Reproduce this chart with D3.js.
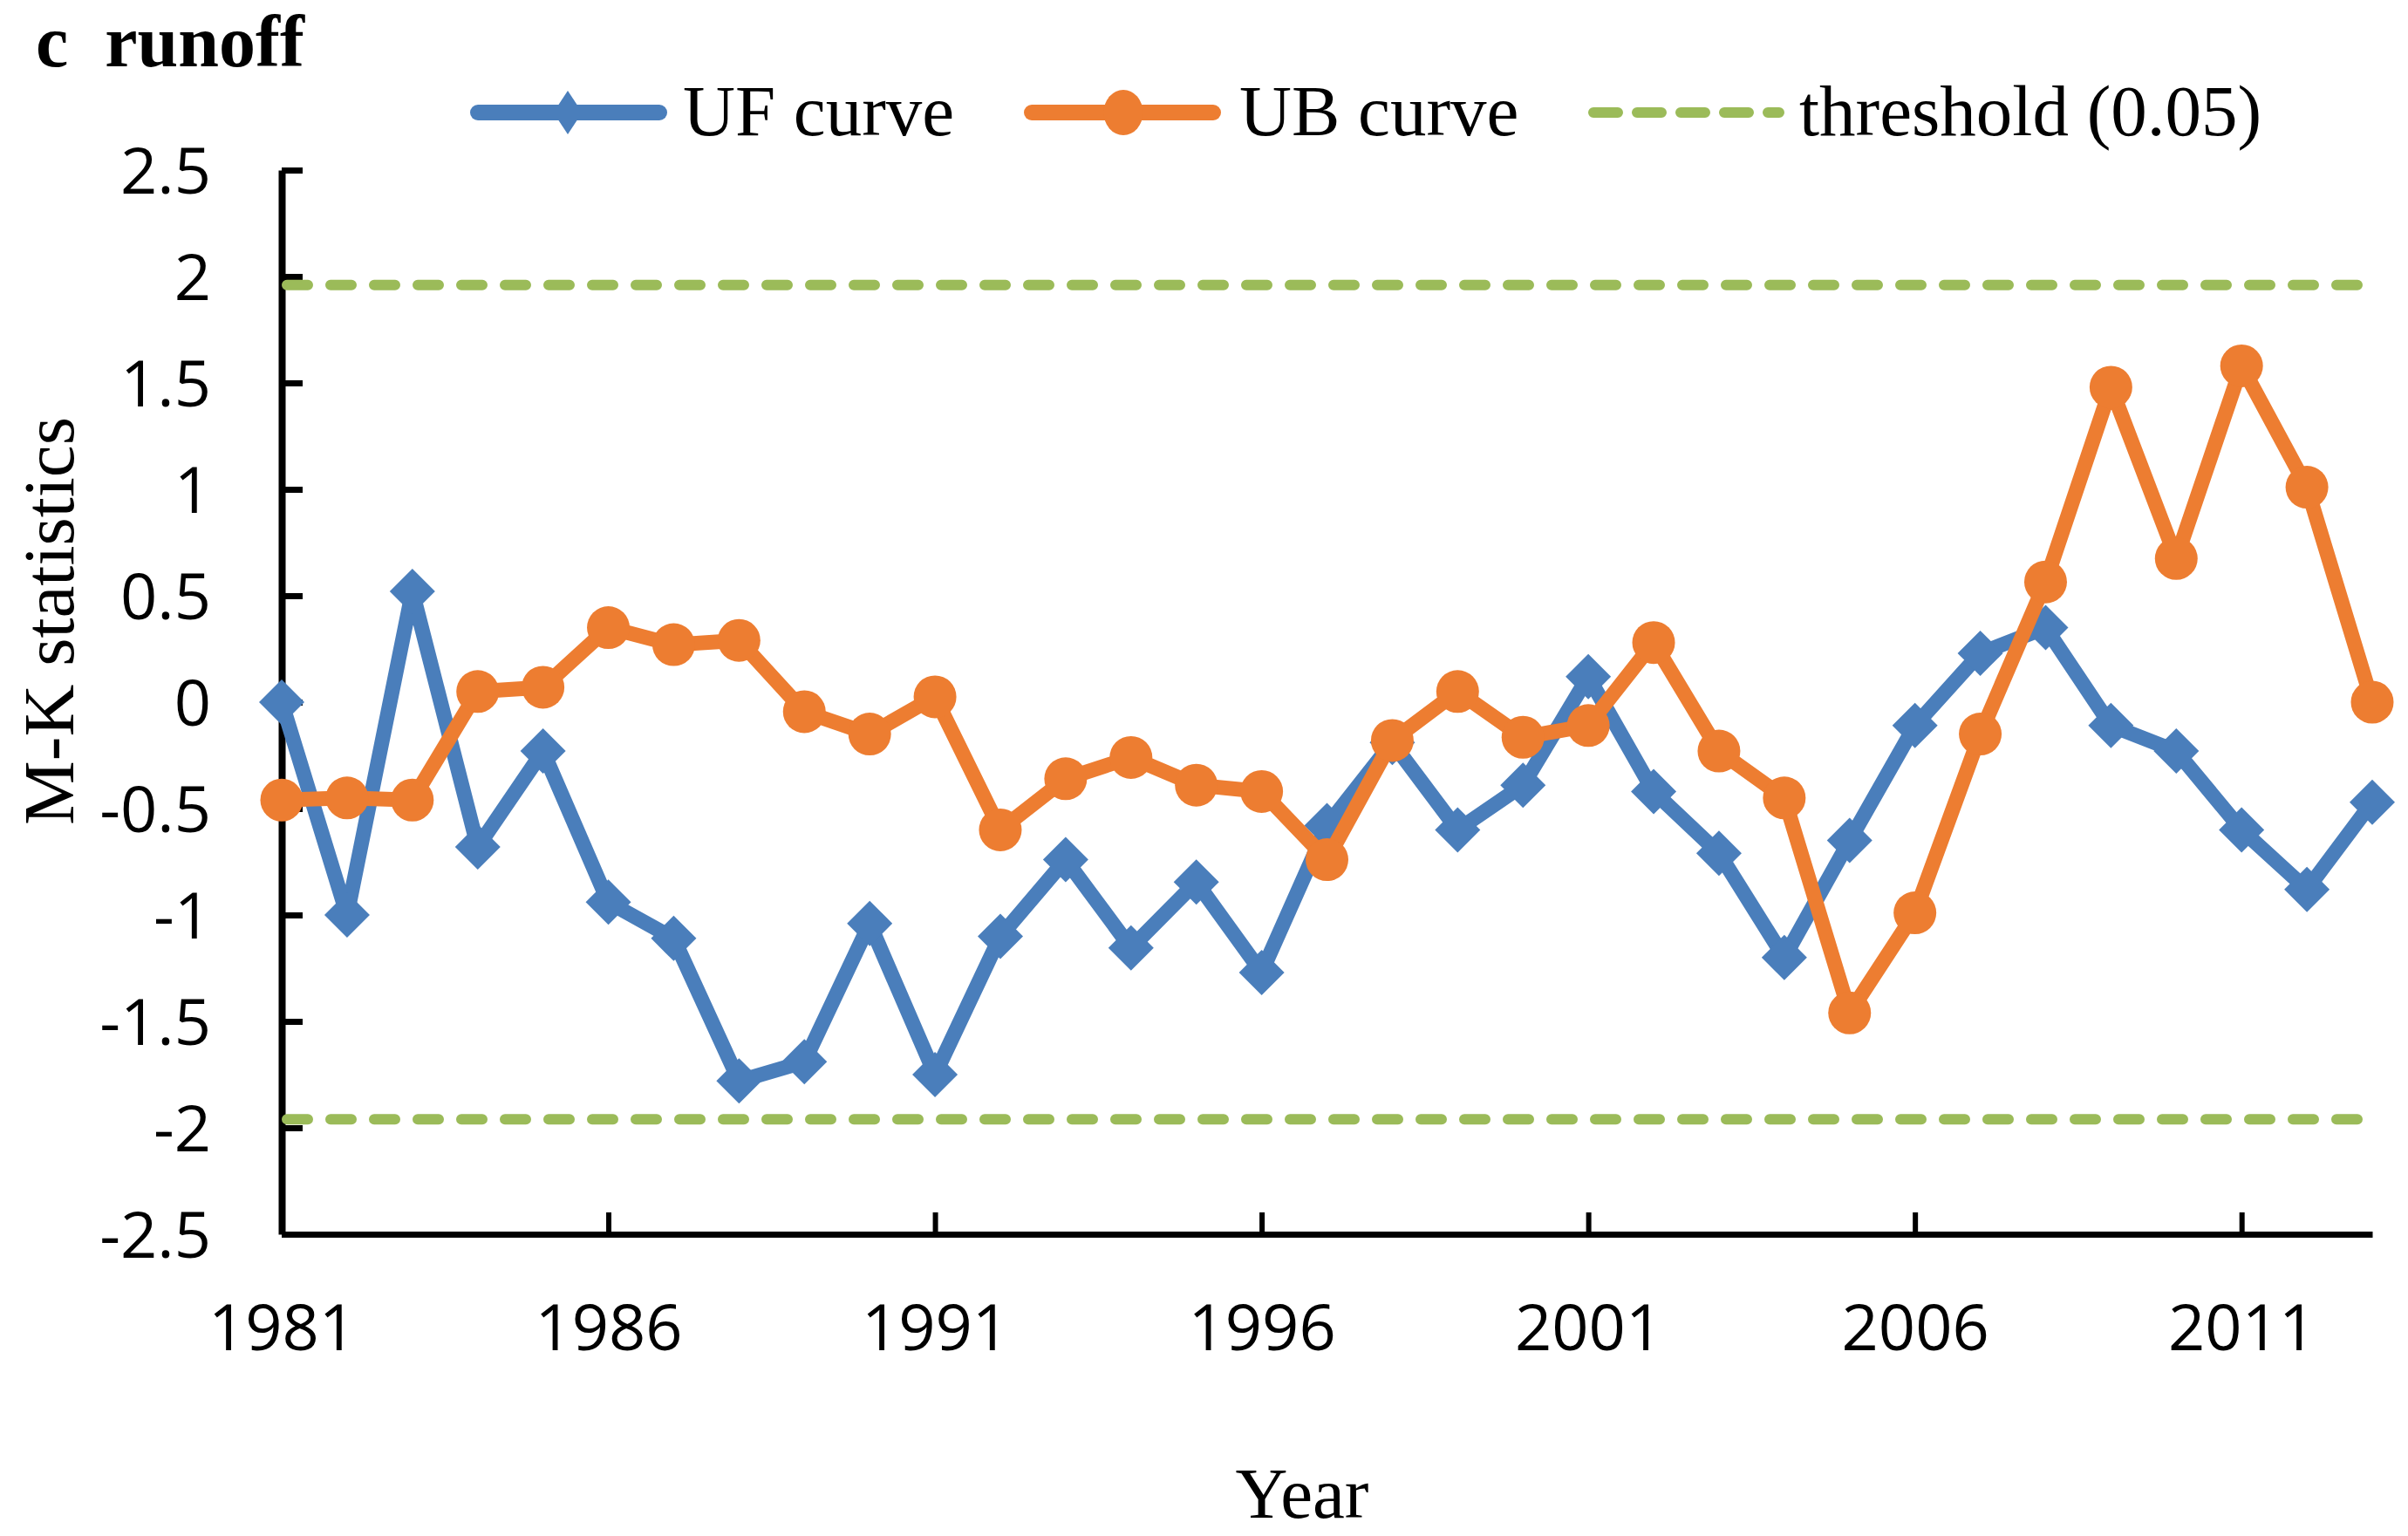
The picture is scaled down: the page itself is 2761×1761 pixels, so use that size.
<!DOCTYPE html>
<html>
<head>
<meta charset="utf-8">
<script src="https://cdn.jsdelivr.net/npm/d3@7"></script>
<style>
  html, body { margin: 0; padding: 0; background: #fff; }
  svg { display: block; }
</style>
</head>
<body>
<div id="chart"></div>
<script>
// values
const years = d3.range(1981, 2014)
const ufValues = [0, -1.0, 0.52, -0.68, -0.23, -0.94, -1.11, -1.78, -1.69, -1.04,
    -1.75, -1.10, -0.74, -1.155, -0.845, -1.27, -0.58, -0.19, -0.60, -0.39,
    0.12, -0.42, -0.71, -1.20, -0.65, -0.11, 0.23, 0.35, -0.11, -0.23,
    -0.60, -0.88, -0.47]
const ubValues = [-0.46, -0.45, -0.46, 0.05, 0.07, 0.35, 0.27, 0.29, -0.045, -0.15,
    0.025, -0.60, -0.36, -0.26, -0.39, -0.42, -0.74, -0.18, 0.05, -0.165,
    -0.11, 0.28, -0.23, -0.45, -1.46, -0.99, -0.15, 0.565, 1.48, 0.675,
    1.58, 1.01, 0]
const thresholds = [1.96, -1.96]
const yTicks = [-2.5, -2, -1.5, -1, -0.5, 0, 0.5, 1, 1.5, 2, 2.5]
const xTicks = [1981, 1986, 1991, 1996, 2001, 2006, 2011]

const W = 2761, H = 1761
const blue = '#4a7ebb', orange = '#ed7d31', green = '#9bbb59'
const serif = '"Liberation Serif", "Times New Roman", serif'
const sans = '"Open Sans", "Noto Sans", sans-serif'

const x = d3.scaleLinear().domain([1981, 2013]).range([323, 2720])
const y = d3.scaleLinear().domain([-2.5, 2.5]).range([1415, 195])

const svg = d3.select('#chart')
    .append('svg')
    .attr('width', W)
    .attr('height', H)

function diamond(r) {
    return 'M0,' + (-r) + 'L' + r + ',0L0,' + r + 'L' + (-r) + ',0Z'
}

// axes
const yAxis = svg.append('g')
    .attr('transform', 'translate(' + x(1981) + ',0)')
    .call(d3.axisLeft(y).tickValues(yTicks).tickSize(-24).tickSizeOuter(0)
        .tickPadding(81).tickFormat(d => String(d)))
yAxis.select('.domain').attr('stroke', '#000').attr('stroke-width', 8)
yAxis.selectAll('.tick line').attr('stroke', '#000').attr('stroke-width', 7)
yAxis.selectAll('.tick text')
    .attr('font-family', sans)
    .attr('font-size', 74)
    .attr('fill', '#000')
    .attr('dy', '0.36em')

const xAxis = svg.append('g')
    .attr('transform', 'translate(0,' + y(-2.5) + ')')
    .call(d3.axisBottom(x).tickValues(xTicks).tickSize(-25).tickSizeOuter(0)
        .tickPadding(80).tickFormat(d => String(d)))
xAxis.select('.domain').attr('stroke', '#000').attr('stroke-width', 7)
xAxis.selectAll('.tick line').attr('stroke', '#000').attr('stroke-width', 6)
xAxis.selectAll('.tick text')
    .attr('font-family', sans)
    .attr('font-size', 74)
    .attr('fill', '#000')

// threshold lines
svg.selectAll('.thr')
    .data(thresholds)
    .enter()
    .append('line')
    .attr('class', 'thr')
    .attr('x1', x(1981) + 6)
    .attr('x2', x(2013))
    .attr('y1', d => y(d))
    .attr('y2', d => y(d))
    .attr('stroke', green)
    .attr('stroke-width', 12)
    .attr('stroke-linecap', 'round')
    .attr('stroke-dasharray', '24,26')

const line = d3.line()
    .x(d => x(d[0]))
    .y(d => y(d[1]))

const ufData = years.map((yr, i) => [yr, ufValues[i]])
const ubData = years.map((yr, i) => [yr, ubValues[i]])

// UF curve
svg.append('path')
    .datum(ufData)
    .attr('d', line)
    .attr('fill', 'none')
    .attr('stroke', blue)
    .attr('stroke-width', 17)
    .attr('stroke-linejoin', 'round')
svg.selectAll('.uf')
    .data(ufData)
    .enter()
    .append('path')
    .attr('class', 'uf')
    .attr('d', diamond(26))
    .attr('transform', d => 'translate(' + x(d[0]) + ',' + y(d[1]) + ')')
    .attr('fill', blue)

// UB curve
svg.append('path')
    .datum(ubData)
    .attr('d', line)
    .attr('fill', 'none')
    .attr('stroke', orange)
    .attr('stroke-width', 17)
    .attr('stroke-linejoin', 'round')
svg.selectAll('.ub')
    .data(ubData)
    .enter()
    .append('circle')
    .attr('class', 'ub')
    .attr('cx', d => x(d[0]))
    .attr('cy', d => y(d[1]))
    .attr('r', 24.5)
    .attr('fill', orange)

// legend
const legendY = 129
const legend = svg.append('g')

legend.append('line')
    .attr('x1', 548).attr('x2', 756)
    .attr('y1', legendY).attr('y2', legendY)
    .attr('stroke', blue).attr('stroke-width', 18).attr('stroke-linecap', 'round')
legend.append('path')
    .attr('d', diamond(25))
    .attr('transform', 'translate(651,' + legendY + ') scale(0.66,1)')
    .attr('fill', blue)
legend.append('text')
    .attr('x', 783).attr('y', 155)
    .attr('font-family', serif).attr('font-size', 83)
    .text('UF curve')

legend.append('line')
    .attr('x1', 1183).attr('x2', 1391)
    .attr('y1', legendY).attr('y2', legendY)
    .attr('stroke', orange).attr('stroke-width', 18).attr('stroke-linecap', 'round')
legend.append('ellipse')
    .attr('cx', 1288).attr('cy', legendY)
    .attr('rx', 22.5).attr('ry', 26)
    .attr('fill', orange)
legend.append('text')
    .attr('x', 1421).attr('y', 155)
    .attr('font-family', serif).attr('font-size', 83)
    .text('UB curve')

legend.append('line')
    .attr('x1', 1827).attr('x2', 2040)
    .attr('y1', legendY).attr('y2', legendY)
    .attr('stroke', green).attr('stroke-width', 12).attr('stroke-linecap', 'round')
    .attr('stroke-dasharray', '28,22')
legend.append('text')
    .attr('x', 2063).attr('y', 155)
    .attr('font-family', serif).attr('font-size', 83)
    .text('threshold (0.05)')

// title and axis titles
svg.append('text')
    .attr('x', 41).attr('y', 76)
    .attr('font-family', serif).attr('font-size', 84).attr('font-weight', 'bold')
    .style('white-space', 'pre')
    .text('c  runoff')

svg.append('text')
    .attr('transform', 'translate(84,712) rotate(-90)')
    .attr('text-anchor', 'middle')
    .attr('font-family', serif).attr('font-size', 83)
    .text('M-K statistics')

svg.append('text')
    .attr('x', 1493).attr('y', 1740)
    .attr('text-anchor', 'middle')
    .attr('font-family', serif).attr('font-size', 83)
    .text('Year')
</script>
</body>
</html>
